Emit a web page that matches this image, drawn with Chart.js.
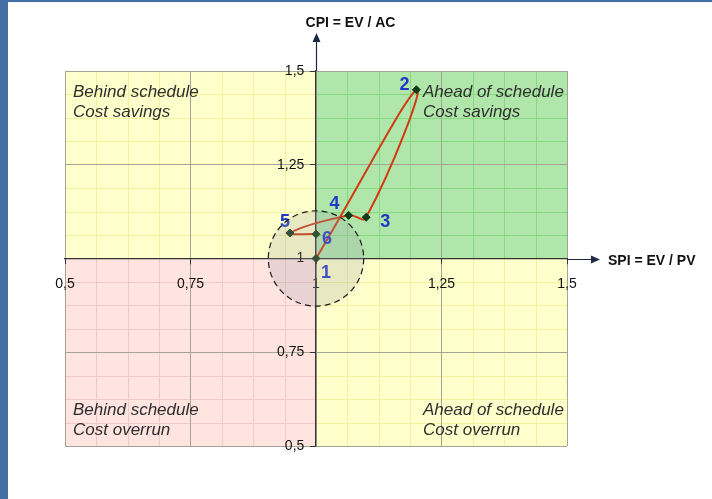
<!DOCTYPE html>
<html>
<head>
<meta charset="utf-8">
<script src="https://cdn.jsdelivr.net/npm/chart.js@4.4.0/dist/chart.umd.min.js"></script>
<style>
  html, body { margin: 0; padding: 0; background: #fff; }
  #frame {
    width: 704px;
    height: 497px;
    border-left: 8px solid #4270a4;
    border-top: 2px solid #4270a4;
  }
  canvas { display: block; }
</style>
</head>
<body>
<div id="frame"><canvas id="evmChart" width="704" height="497"></canvas></div>
<script>
// Performance index history (SPI on x, CPI on y), in order of measurement
const pointNames = ['1', '2', '3', '4', '5', '6'];
const spiValues = [1.0, 1.2, 1.1, 1.065, 0.948, 1.0];
const cpiValues = [1.0, 1.45, 1.11, 1.115, 1.068, 1.065];

// Axis ticks
const tickValues = [0.5, 0.75, 1, 1.25, 1.5];
const tickLabels = ['0,5', '0,75', '1', '1,25', '1,5'];

const xTitle = 'SPI = EV / PV';
const yTitle = 'CPI = EV / AC';

// Quadrant captions: [spi side, cpi side, first line, second line]
const quadrantNotes = [
    ['left', 'top', 'Behind schedule', 'Cost savings'],
    ['right', 'top', 'Ahead of schedule', 'Cost savings'],
    ['left', 'bottom', 'Behind schedule', 'Cost overrun'],
    ['right', 'bottom', 'Ahead of schedule', 'Cost overrun']
];

function tickText(v) {
    const i = tickValues.indexOf(Math.round(v * 100) / 100);
    return i >= 0 ? tickLabels[i] : '';
}

// quadrant shading + fine grid
const quadrantBackground = {
    id: 'quadrantBackground',
    beforeDraw(chart) {
        const { ctx, scales: { x, y } } = chart;
        const areas = [
            { xr: [0.5, 1], yr: [1, 1.5], fill: '#ffffcc', line: '#f4f0a0' },
            { xr: [1, 1.5], yr: [1, 1.5], fill: '#b0e6aa', line: '#84da80' },
            { xr: [0.5, 1], yr: [0.5, 1], fill: '#ffe4e0', line: '#f4c8c4' },
            { xr: [1, 1.5], yr: [0.5, 1], fill: '#ffffcc', line: '#f4f0a0' }
        ];
        ctx.save();
        areas.forEach(a => {
            const l = x.getPixelForValue(a.xr[0]), r = x.getPixelForValue(a.xr[1]);
            const t = y.getPixelForValue(a.yr[1]), b = y.getPixelForValue(a.yr[0]);
            ctx.fillStyle = a.fill;
            ctx.fillRect(l, t, r - l, b - t);
            ctx.strokeStyle = a.line;
            ctx.lineWidth = 1;
            ctx.beginPath();
            for (let k = 1; k < 8; k++) {
                if (k === 4) continue;
                const v = a.xr[0] + k * 0.0625;
                const px = Math.round(x.getPixelForValue(v)) + 0.5;
                ctx.moveTo(px, t);
                ctx.lineTo(px, b);
                const w = a.yr[0] + k * 0.0625;
                const py = Math.round(y.getPixelForValue(w)) + 0.5;
                ctx.moveTo(l, py);
                ctx.lineTo(r, py);
            }
            ctx.stroke();
        });
        ctx.restore();
    },
    beforeDatasetsDraw(chart) {
        const { ctx, chartArea: area } = chart;
        ctx.save();
        ctx.font = 'italic 17px Arial, "Liberation Sans", sans-serif';
        ctx.fillStyle = '#2e2e2e';
        ctx.textBaseline = 'middle';
        quadrantNotes.forEach(([sx, sy, l1, l2]) => {
            const tx = sx === 'left' ? area.left + 8 : chart.scales.x.getPixelForValue(1) + 107;
            const ty = sy === 'top' ? area.top + 21 : area.bottom - 36;
            ctx.fillText(l1, tx, ty);
            ctx.fillText(l2, tx, ty + 20);
        });
        ctx.restore();
    }
};

// numbered point labels, the highlighted zone round the origin point, axis arrows
const labelOffsets = [[10, 15], [-12, -5], [19, 5], [-14, -11], [-5, -11], [11, 5]];

const overlays = {
    id: 'overlays',
    afterDatasetsDraw(chart) {
        const { ctx, scales: { x, y } } = chart;
        const meta = chart.getDatasetMeta(0);
        ctx.save();
        ctx.font = 'bold 18px Arial, "Liberation Sans", sans-serif';
        ctx.fillStyle = '#2238c8';
        ctx.textAlign = 'center';
        ctx.textBaseline = 'middle';
        meta.data.forEach((pt, i) => {
            ctx.fillText(pointNames[i], pt.x + labelOffsets[i][0], pt.y + labelOffsets[i][1]);
        });

        // shaded circle round (1, 1)
        const cx = x.getPixelForValue(spiValues[0]);
        const cy = y.getPixelForValue(cpiValues[0]);
        const rad = x.getPixelForValue(1.095) - cx;
        ctx.beginPath();
        ctx.arc(cx, cy, rad, 0, Math.PI * 2);
        ctx.fillStyle = 'rgba(160, 160, 168, 0.24)';
        ctx.fill();
        ctx.setLineDash([6, 4]);
        ctx.lineWidth = 1.2;
        ctx.strokeStyle = '#1a1a1a';
        ctx.stroke();
        ctx.restore();
    },
    afterDraw(chart) {
        const { ctx, chartArea: area, scales: { x, y } } = chart;
        const ox = Math.round(x.getPixelForValue(1)) + 0.5;
        const oy = Math.round(y.getPixelForValue(1)) + 0.5;
        const tipX = area.right + 33;
        const tipY = area.top - 38;
        ctx.save();
        ctx.strokeStyle = '#1c2a44';
        ctx.fillStyle = '#1c2a44';
        ctx.lineWidth = 1.2;
        ctx.beginPath();
        ctx.moveTo(area.right, oy);
        ctx.lineTo(tipX - 4, oy);
        ctx.moveTo(ox, area.top);
        ctx.lineTo(ox, tipY + 4);
        ctx.stroke();
        ctx.beginPath();
        ctx.moveTo(tipX, oy);
        ctx.lineTo(tipX - 9, oy - 4);
        ctx.lineTo(tipX - 9, oy + 4);
        ctx.closePath();
        ctx.moveTo(ox, tipY);
        ctx.lineTo(ox - 4, tipY + 9);
        ctx.lineTo(ox + 4, tipY + 9);
        ctx.closePath();
        ctx.fill();

        ctx.font = 'bold 14px Arial, "Liberation Sans", sans-serif';
        ctx.fillStyle = '#111';
        ctx.textBaseline = 'middle';
        ctx.textAlign = 'left';
        ctx.fillText(xTitle, tipX + 8, oy + 2);
        ctx.textAlign = 'center';
        ctx.fillText(yTitle, ox + 34, tipY - 10);
        ctx.restore();
    }
};

new Chart(document.getElementById('evmChart'), {
    type: 'scatter',
    data: {
        datasets: [{
            data: spiValues.map((v, i) => ({ x: v, y: cpiValues[i] })),
            showLine: true,
            tension: 0.45,
            borderColor: '#d03a14',
            borderWidth: 2,
            pointStyle: 'rectRot',
            pointRadius: 4,
            pointBackgroundColor: '#123a16',
            pointBorderColor: '#123a16',
            pointBorderWidth: 1
        }]
    },
    options: {
        responsive: false,
        animation: false,
        layout: { padding: { left: 57, right: 145, top: 69, bottom: 53 } },
        plugins: {
            legend: { display: false },
            tooltip: { enabled: false }
        },
        scales: {
            x: {
                type: 'linear',
                min: 0.5,
                max: 1.5,
                position: { y: 1 },
                grid: { color: '#a4a496', tickLength: 5, tickColor: '#333' },
                border: { color: '#333', width: 1.2 },
                ticks: {
                    stepSize: 0.25,
                    padding: 12,
                    color: '#111',
                    font: { family: 'Arial, "Liberation Sans", sans-serif', size: 14 },
                    callback: v => tickText(v)
                }
            },
            y: {
                type: 'linear',
                min: 0.5,
                max: 1.5,
                position: { x: 1 },
                grid: { color: '#a4a496', tickLength: 5, tickColor: '#333' },
                border: { color: '#333', width: 1.2 },
                ticks: {
                    stepSize: 0.25,
                    color: '#111',
                    font: { family: 'Arial, "Liberation Sans", sans-serif', size: 14 },
                    callback: v => tickText(v) + '   '
                }
            }
        }
    },
    plugins: [quadrantBackground, overlays]
});
</script>
</body>
</html>
